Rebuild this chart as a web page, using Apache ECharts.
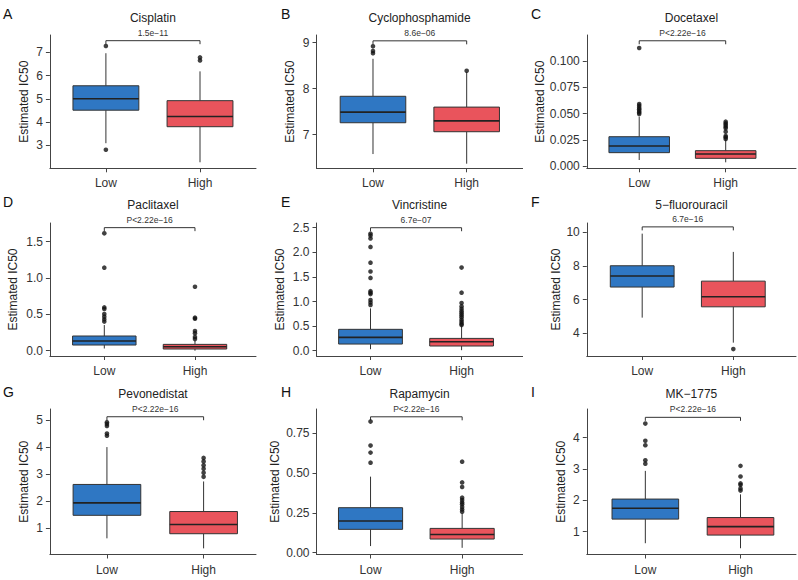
<!DOCTYPE html>
<html><head><meta charset="utf-8">
<script src="https://cdn.jsdelivr.net/npm/echarts@6/dist/echarts.min.js"></script>
<style>html,body{margin:0;padding:0;background:#fff}#chart{width:798px;height:580px}</style>
</head><body><div id="chart"></div>
<script>
// ---------------- data ----------------
const groups = ['Low', 'High'];
const drugs = ['Cisplatin', 'Cyclophosphamide', 'Docetaxel', 'Paclitaxel', 'Vincristine', '5−fluorouracil', 'Pevonedistat', 'Rapamycin', 'MK−1775'];
const panelLetters = ['A', 'B', 'C', 'D', 'E', 'F', 'G', 'H', 'I'];
const pValueLabels = ['1.5e−11', '8.6e−06', 'P<2.22e−16', 'P<2.22e−16', '6.7e−07', '6.7e−16', 'P<2.22e−16', 'P<2.22e−16', 'P<2.22e−16'];

// box statistics per group: [lower whisker, Q1, median, Q3, upper whisker]
const cisplatinBoxes = [[3.09, 4.51, 5.00, 5.56, 6.96], [2.27, 3.80, 4.24, 4.92, 6.18]];
const cisplatinOutliers = [[7.27, 2.81], [6.78, 6.65]];
const cyclophosphamideBoxes = [[6.58, 7.26, 7.49, 7.835, 8.65], [6.37, 7.065, 7.30, 7.60, 8.36]];
const cyclophosphamideOutliers = [[8.92, 8.82, 8.77], [8.39]];
const docetaxelBoxes = [[0.0057, 0.0127, 0.019, 0.0279, 0.047], [0.0035, 0.0073, 0.0114, 0.0146, 0.0248]];
const docetaxelOutliers = [[0.1124, 0.059, 0.0575, 0.0555, 0.054, 0.0525, 0.051, 0.0495], [0.0422, 0.0406, 0.039, 0.0375, 0.0359, 0.0327, 0.0286, 0.0273, 0.0257]];
const paclitaxelBoxes = [[0.03, 0.078, 0.133, 0.202, 0.353], [0.0, 0.023, 0.055, 0.087, 0.138]];
const paclitaxelOutliers = [[1.615, 1.142, 0.596, 0.573, 0.505, 0.468, 0.431, 0.40], [0.88, 0.454, 0.44, 0.27, 0.24, 0.19, 0.16]];
const vincristineBoxes = [[0.03, 0.135, 0.271, 0.434, 0.86], [0.01, 0.095, 0.183, 0.25, 0.50]];
const vincristineOutliers = [[2.38, 2.34, 2.28, 2.11, 1.79, 1.61, 1.48, 1.21, 1.18, 1.15, 1.03, 0.98, 0.93], [1.69, 1.18, 0.97, 0.90, 0.85, 0.80, 0.76, 0.72, 0.68, 0.63, 0.59, 0.55, 0.52]];
const fluorouracilBoxes = [[4.93, 6.74, 7.39, 8.00, 9.90], [3.45, 5.57, 6.17, 7.09, 8.82]];
const fluorouracilOutliers = [[], [3.07]];
const pevonedistatBoxes = [[0.63, 1.48, 1.94, 2.62, 4.00], [0.26, 0.80, 1.14, 1.62, 2.73]];
const pevonedistatOutliers = [[4.92, 4.85, 4.78, 4.50, 4.42], [3.60, 3.47, 3.33, 3.20, 3.05, 2.90]];
const rapamycinBoxes = [[0.042, 0.147, 0.199, 0.283, 0.478], [0.031, 0.086, 0.115, 0.153, 0.247]];
const rapamycinOutliers = [[0.824, 0.673, 0.629, 0.566], [0.572, 0.442, 0.413, 0.346, 0.331, 0.316, 0.304, 0.287, 0.272, 0.258]];
const mk1775Boxes = [[0.63, 1.40, 1.745, 2.04, 2.94], [0.47, 0.89, 1.16, 1.45, 2.19]];
const mk1775Outliers = [[4.45, 3.90, 3.76, 3.28, 3.17], [3.10, 2.76, 2.54, 2.49, 2.38, 2.31]];

// y tick labels per panel
const cisplatinTicks = ['3', '4', '5', '6', '7'];
const cyclophosphamideTicks = ['7', '8', '9'];
const docetaxelTicks = ['0.000', '0.025', '0.050', '0.075', '0.100'];
const paclitaxelTicks = ['0.0', '0.5', '1.0', '1.5'];
const vincristineTicks = ['0.0', '0.5', '1.0', '1.5', '2.0', '2.5'];
const fluorouracilTicks = ['4', '6', '8', '10'];
const pevonedistatTicks = ['1', '2', '3', '4', '5'];
const rapamycinTicks = ['0.00', '0.25', '0.50', '0.75'];
const mk1775Ticks = ['1', '2', '3', '4'];

// significance bracket heights (data units)
const bracketLevels = [7.50, 9.04, 0.1193, 1.693, 2.50, 10.30, 5.12, 0.854, 4.65];

// ---------------- layout ----------------
const boxSets = [cisplatinBoxes, cyclophosphamideBoxes, docetaxelBoxes, paclitaxelBoxes, vincristineBoxes, fluorouracilBoxes, pevonedistatBoxes, rapamycinBoxes, mk1775Boxes];
const outlierSets = [cisplatinOutliers, cyclophosphamideOutliers, docetaxelOutliers, paclitaxelOutliers, vincristineOutliers, fluorouracilOutliers, pevonedistatOutliers, rapamycinOutliers, mk1775Outliers];
const tickSets = [cisplatinTicks, cyclophosphamideTicks, docetaxelTicks, paclitaxelTicks, vincristineTicks, fluorouracilTicks, pevonedistatTicks, rapamycinTicks, mk1775Ticks];

const yRanges = [[2.011, 7.744], [6.27, 9.167], [-0.0022, 0.1248], [-0.073, 1.757], [-0.108, 2.596], [2.66, 10.53], [0.033, 5.406], [-0.011, 0.903], [0.27, 4.916]];
const xRanges = [[0.405, 2.595], [0.397, 2.597], [0.394, 2.813], [0.40, 2.673], [0.407, 2.67], [0.392, 2.688], [0.41, 2.542], [0.41, 2.66], [0.385, 2.583]];
const nameGaps = [20.3, 20.2, 40.5, 31.2, 30.2, 24.5, 19.6, 35.2, 19.5];
const colLeft = [49.9, 316.5, 586.8];
const colRight = [256, 522.6, 796];
const rowTop = [35, 223, 409];
const rowBottom = [168.3, 356, 554.5];
const titleY = [18.3, 205, 394.3];
const letterX = [3, 281, 531];
const letterY = [14, 202, 392];

const FONT = '"Liberation Sans", Arial, Helvetica, sans-serif';
const BOX_WIDTH = 0.7;
const groupColors = ['#2f77c3', '#e9545c'];
const lineColor = '#333';

function renderBox(params, api) {
  const x = api.value(0);
  const lw = api.coord([x, api.value(1)]);
  const q1 = api.coord([x, api.value(2)]);
  const md = api.coord([x, api.value(3)]);
  const q3 = api.coord([x, api.value(4)]);
  const uw = api.coord([x, api.value(5)]);
  const w = api.size([BOX_WIDTH, 0])[0];
  const cx = q1[0];
  const ls = { stroke: lineColor, lineWidth: 1 };
  return {
    type: 'group',
    children: [
      { type: 'line', shape: { x1: cx, y1: q3[1], x2: cx, y2: uw[1] }, style: ls },
      { type: 'line', shape: { x1: cx, y1: q1[1], x2: cx, y2: lw[1] }, style: ls },
      { type: 'rect', shape: { x: cx - w / 2, y: q3[1], width: w, height: q1[1] - q3[1] }, style: { fill: groupColors[x - 1], stroke: lineColor, lineWidth: 1 } },
      { type: 'line', shape: { x1: cx - w / 2, y1: md[1], x2: cx + w / 2, y2: md[1] }, style: { stroke: '#222', lineWidth: 1.6 } }
    ]
  };
}

function makeBracketRenderer(label) {
  return function (params, api) {
    const a = api.coord([api.value(0), api.value(2)]);
    const b = api.coord([api.value(1), api.value(2)]);
    const tip = 3.5;
    return {
      type: 'group',
      children: [
        { type: 'polyline', shape: { points: [[a[0], a[1] + tip], [a[0], a[1]], [b[0], b[1]], [b[0], b[1] + tip]] }, style: { stroke: lineColor, lineWidth: 1, fill: 'none' } },
        { type: 'text', x: (a[0] + b[0]) / 2, y: a[1] - 8, style: { text: label, fill: '#333', fontSize: 8.5, fontFamily: FONT, align: 'center', verticalAlign: 'middle' } }
      ]
    };
  };
}

const grids = [], xAxes = [], yAxes = [], series = [], titles = [];
for (let i = 0; i < 9; i++) {
  const c = i % 3, r = Math.floor(i / 3);
  const left = colLeft[c], width = colRight[c] - colLeft[c];
  const top = rowTop[r], height = rowBottom[r] - rowTop[r];
  grids.push({ left, top, width, height, containLabel: false, outerBoundsMode: 'none' });
  const ticks = tickSets[i];
  const tickValues = ticks.map(Number);
  xAxes.push({
    gridIndex: i, type: 'value', min: xRanges[i][0], max: xRanges[i][1],
    axisLine: { show: true, onZero: false, lineStyle: { color: '#444', width: 1 } },
    axisTick: { show: true, length: 4, customValues: [1, 2], lineStyle: { color: '#444', width: 1 } },
    axisLabel: { show: true, customValues: [1, 2], formatter: v => groups[Math.round(v) - 1] || '', fontSize: 12, color: '#333', margin: 9, fontFamily: FONT },
    splitLine: { show: false }
  });
  yAxes.push({
    gridIndex: i, type: 'value', min: yRanges[i][0], max: yRanges[i][1],
    name: 'Estimated IC50', nameLocation: 'middle', nameGap: nameGaps[i],
    nameTextStyle: { fontSize: 12, color: '#222', fontFamily: FONT },
    axisLine: { show: true, onZero: false, lineStyle: { color: '#444', width: 1 } },
    axisTick: { show: true, length: 4, customValues: tickValues, lineStyle: { color: '#444', width: 1 } },
    axisLabel: {
      show: true, customValues: tickValues, fontSize: 12, color: '#333', margin: 7, fontFamily: FONT,
      formatter: v => { const t = ticks.find(s => Math.abs(Number(s) - v) < 1e-9); return t === undefined ? '' : t; }
    },
    splitLine: { show: false }
  });
  const boxes = boxSets[i];
  series.push({
    type: 'custom', xAxisIndex: i, yAxisIndex: i, renderItem: renderBox, silent: true,
    encode: { x: 0, y: [1, 2, 3, 4, 5] },
    data: boxes.map((b, g) => [g + 1].concat(b))
  });
  const outs = outlierSets[i];
  const pts = [];
  outs.forEach((arr, g) => arr.forEach(v => pts.push([g + 1, v])));
  series.push({
    type: 'scatter', xAxisIndex: i, yAxisIndex: i, silent: true,
    symbol: 'circle', symbolSize: 4.6, itemStyle: { color: '#111' }, data: pts
  });
  series.push({
    type: 'custom', xAxisIndex: i, yAxisIndex: i, silent: true,
    renderItem: makeBracketRenderer(pValueLabels[i]),
    encode: { x: [0, 1], y: 2 },
    data: [[1, 2, bracketLevels[i]]]
  });
  titles.push({
    text: drugs[i], left: left + width / 2, top: titleY[r], textAlign: 'center', textVerticalAlign: 'middle', padding: 0,
    textStyle: { fontSize: 12, fontWeight: 'normal', color: '#222', fontFamily: FONT }
  });
  titles.push({
    text: panelLetters[i], left: letterX[c], top: letterY[r], textAlign: 'left', textVerticalAlign: 'middle', padding: 0,
    textStyle: { fontSize: 14, fontWeight: 'normal', color: '#111', fontFamily: FONT }
  });
}

const chart = echarts.init(document.getElementById('chart'), null, { renderer: 'svg' });
chart.setOption({
  animation: false,
  backgroundColor: '#fff',
  textStyle: { fontFamily: FONT },
  title: titles,
  grid: grids,
  xAxis: xAxes,
  yAxis: yAxes,
  series: series
});
</script>
</body></html>
